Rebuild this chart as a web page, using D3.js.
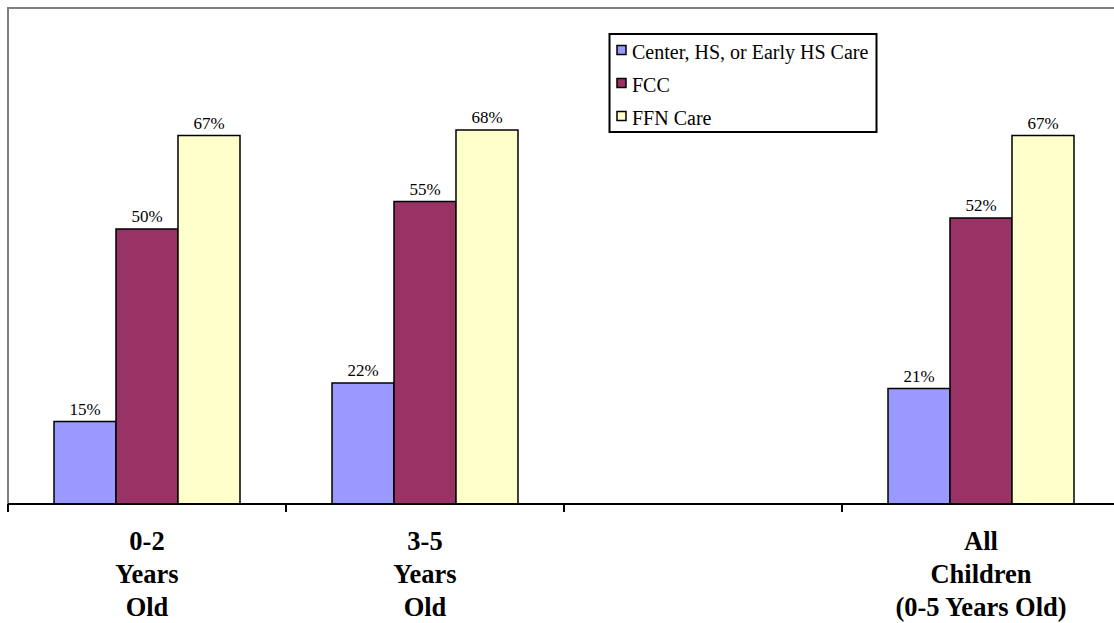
<!DOCTYPE html>
<html>
<head>
<meta charset="utf-8">
<script src="https://cdn.jsdelivr.net/npm/d3@7"></script>
<style>
  html, body { margin: 0; padding: 0; background: #fff; }
  svg { display: block; }
  text { font-family: "Liberation Serif", "Times New Roman", serif; fill: #000; }
</style>
</head>
<body>
<svg id="chart" width="1114" height="623"></svg>
<script>
// Age groups along the x axis (the third slot is intentionally left blank)
const categories = ["0-2", "3-5", "gap", "all"];
const categoryLabels = [
  ["0-2", "Years", "Old"],
  ["3-5", "Years", "Old"],
  [],
  ["All", "Children", "(0-5 Years Old)"]
];
const seriesNames = ["Center, HS, or Early HS Care", "FCC", "FFN Care"];
const seriesColors = ["#9999FF", "#993366", "#FFFFCC"];

// Percent of children using each type of care, per age group
const centerValues = [15, 22, null, 21];
const fccValues = [50, 55, null, 52];
const ffnValues = [67, 68, null, 67];
const seriesValues = [centerValues, fccValues, ffnValues];

const svg = d3.select("#chart");

const plotLeft = 8, plotTop = 8, plotRight = 1114, baseY = 504;

const x0 = d3.scaleBand().domain(categories).range([8, 1120]).padding(0);
const bw = x0.bandwidth();
const x1 = d3.scaleBand().domain(d3.range(seriesNames.length))
  .range([bw * 0.1655, bw * 0.8345]).padding(0);
const y = d3.scaleLinear().domain([0, 90]).range([baseY, 9]);

// Plot frame: grey top and left edges
svg.append("path")
  .attr("d", `M${plotLeft},${baseY} V${plotTop} H${plotRight}`)
  .attr("fill", "none")
  .attr("stroke", "#808080")
  .attr("stroke-width", 2);

// Bars
const rows = [];
categories.forEach((c, ci) => {
  seriesValues.forEach((vals, si) => {
    if (vals[ci] != null) rows.push({ c, si, v: vals[ci] });
  });
});

svg.append("g").selectAll("rect").data(rows).join("rect")
  .attr("x", d => x0(d.c) + x1(d.si))
  .attr("y", d => y(d.v))
  .attr("width", x1.bandwidth())
  .attr("height", d => y(0) - y(d.v))
  .attr("fill", d => seriesColors[d.si])
  .attr("stroke", "#000")
  .attr("stroke-width", 1.5);

// Value labels
svg.append("g").selectAll("text").data(rows).join("text")
  .attr("x", d => x0(d.c) + x1(d.si) + x1.bandwidth() / 2)
  .attr("y", d => y(d.v) - 7)
  .attr("text-anchor", "middle")
  .attr("font-size", 17)
  .text(d => d.v + "%");

// Category axis with ticks between groups
const axis = d3.axisBottom(x0).tickValues([]).tickSize(0).tickSizeOuter(0);
const axisG = svg.append("g").attr("transform", `translate(0,${baseY})`).call(axis);
axisG.select(".domain").remove();
axisG.append("line")
  .attr("x1", plotLeft).attr("x2", plotRight)
  .attr("stroke", "#000").attr("stroke-width", 2);
axisG.selectAll(".sep").data(categories).join("line")
  .attr("class", "sep")
  .attr("x1", d => x0(d)).attr("x2", d => x0(d))
  .attr("y1", 0).attr("y2", 8)
  .attr("stroke", "#000").attr("stroke-width", 2);

// Multi-line category labels
categories.forEach((c, ci) => {
  const cx = x0(c) + bw / 2;
  const t = svg.append("text")
    .attr("text-anchor", "middle")
    .attr("font-size", 26.5)
    .attr("font-weight", "bold");
  categoryLabels[ci].forEach((line, li) => {
    t.append("tspan").attr("x", cx).attr("y", 550 + li * 33).text(line);
  });
});

// Legend
const lg = svg.append("g");
lg.append("rect")
  .attr("x", 609.5).attr("y", 34).attr("width", 267).attr("height", 98)
  .attr("fill", "#fff").attr("stroke", "#000").attr("stroke-width", 2);
seriesNames.forEach((name, i) => {
  const cy = 50 + i * 33;
  lg.append("rect")
    .attr("x", 617).attr("y", cy - 4.5).attr("width", 9).attr("height", 9)
    .attr("fill", seriesColors[i]).attr("stroke", "#000").attr("stroke-width", 1.5);
  lg.append("text")
    .attr("x", 632).attr("y", cy + 9)
    .attr("font-size", 20)
    .text(name);
});
</script>
</body>
</html>
